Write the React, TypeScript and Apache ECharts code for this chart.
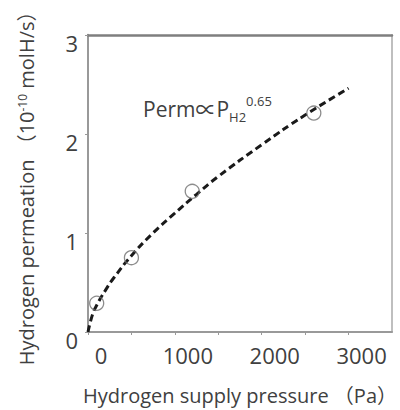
import React, { useEffect, useRef } from "react";
import * as echarts from "echarts";

const pressureData = [100, 500, 1200, 2600];
const permeationData = [0.29, 0.75, 1.42, 2.21];

const fitPressure = [0, 50, 100, 200, 300, 500, 750, 1000, 1250, 1500, 2000, 2500, 3000];
const fitPermeation = [0, 0.17, 0.27, 0.42, 0.55, 0.77, 1.0, 1.2, 1.39, 1.57, 1.89, 2.19, 2.46];

const xTickLabels = [0, 1000, 2000, 3000];
const yTickLabels = [0, 1, 2, 3];

const FONT = "'Open Sans', 'Noto Sans CJK JP', sans-serif";
const TEXT = "#404040";

export default function App() {
  const ref = useRef<HTMLDivElement>(null);
  useEffect(() => {
    if (!ref.current) return;
    const chart = echarts.init(ref.current, undefined, { renderer: "svg" });
    const scatter = pressureData.map((p, i) => [p, permeationData[i]]);
    const fit = fitPressure.map((p, i) => [p, fitPermeation[i]]);
    chart.setOption({
      animation: false,
      backgroundColor: "#ffffff",
      textStyle: { fontFamily: FONT },
      grid: { left: 88, right: 1.5, top: 34, bottom: 75 },
      xAxis: [
        {
          type: "value",
          min: 0,
          max: 3500,
          interval: 500,
          name: "Hydrogen supply pressure （Pa）",
          nameLocation: "middle",
          nameGap: 53,
          nameTextStyle: { fontSize: 20, color: TEXT, fontFamily: FONT },
          axisLine: { lineStyle: { color: "#999999", width: 2 } },
          axisTick: { show: true, length: 3, lineStyle: { color: "#999999", width: 1 } },
          splitLine: { show: false },
          axisLabel: {
            fontSize: 22,
            color: TEXT,
            fontFamily: FONT,
            margin: 12,
            padding: [0, 0, 0, 26],
            showMaxLabel: false,
            formatter: (v: number) => (xTickLabels.includes(v) ? String(v) : ""),
          },
        },
        {
          type: "value",
          position: "top",
          min: 0,
          max: 3500,
          interval: 500,
          axisLine: { show: true, onZero: false, lineStyle: { color: "#7f7f7f", width: 2.5 } },
          axisTick: { show: false },
          axisLabel: { show: false },
          splitLine: { show: false },
        },
      ],
      yAxis: [
        {
          type: "value",
          min: 0,
          max: 3,
          interval: 1,
          name: "Hydrogen permeation （10{sup|-10} molH/s）",
          nameLocation: "middle",
          nameGap: 52,
          nameTextStyle: {
            fontSize: 20,
            color: TEXT,
            fontFamily: FONT,
            rich: {
              sup: { fontSize: 12, color: TEXT, fontFamily: FONT, verticalAlign: "top", lineHeight: 12 },
            },
          },
          axisLine: { show: true, lineStyle: { color: "#999999", width: 2 } },
          axisTick: { show: true, length: 3, lineStyle: { color: "#999999", width: 1 } },
          splitLine: { show: false },
          axisLabel: {
            fontSize: 22,
            color: TEXT,
            fontFamily: FONT,
            margin: 10,
            verticalAlign: "top",
            lineHeight: 16,
            formatter: (v: number) => (yTickLabels.includes(v) ? String(v) : ""),
          },
        },
        {
          type: "value",
          position: "right",
          min: 0,
          max: 3,
          interval: 1,
          axisLine: { show: true, onZero: false, lineStyle: { color: "#aaaaaa", width: 1.5 } },
          axisTick: { show: false },
          axisLabel: { show: false },
          splitLine: { show: false },
        },
      ],
      graphic: [
        {
          type: "text",
          left: 143,
          top: 94,
          style: {
            text: "Perm∝P{sub|H2}{sup|0.65}",
            fontSize: 21,
            fontFamily: FONT,
            fill: TEXT,
            lineHeight: 30,
            rich: {
              sub: { fontSize: 13, fontFamily: FONT, fill: TEXT, verticalAlign: "bottom", lineHeight: 14 },
              sup: { fontSize: 13, fontFamily: FONT, fill: TEXT, verticalAlign: "top", lineHeight: 14 },
            },
          },
        },
      ],
      series: [
        {
          type: "line",
          data: fit,
          smooth: true,
          showSymbol: false,
          symbol: "none",
          lineStyle: { color: "#1a1a1a", width: 3, type: [7, 4] },
          z: 2,
        },
        {
          type: "scatter",
          data: scatter,
          symbol: "circle",
          symbolSize: 14,
          itemStyle: { color: "rgba(255,255,255,0)", borderColor: "#6f6f6f", borderWidth: 1.3 },
          z: 3,
        },
      ],
    });
    return () => chart.dispose();
  }, []);
  return (
    <div
      ref={ref}
      style={{ position: "fixed", left: 0, top: 0, width: 400, height: 410 }}
    />
  );
}
